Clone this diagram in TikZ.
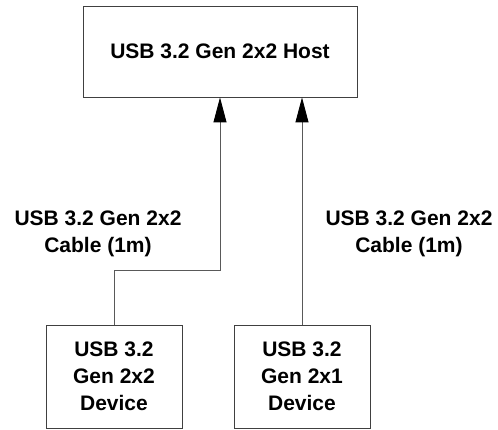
\documentclass[tikz,border=0pt]{standalone}
\usepackage{fontspec}
\setmainfont{Liberation Sans}
\usetikzlibrary{arrows.meta}
\begin{document}
\begin{tikzpicture}[x=1pt,y=-1pt,
  box/.style={draw=black!75, line width=0.9pt, fill=white, inner sep=0pt, align=center,
    font=\fontsize{21}{27}\selectfont\bfseries},
  lbl/.style={align=center, inner sep=0pt, font=\fontsize{21}{27}\selectfont\bfseries},
  conn/.style={draw=black!65, line width=0.9pt},
  arr/.style={conn, -{Triangle[length=25pt,width=13pt,fill=black,color=black]}}]
\useasboundingbox (0,0) rectangle (498,430);
\node[box, minimum width=274pt, minimum height=91pt] (host) at (220,51.5) {USB 3.2 Gen 2x2 Host};
\node[box, minimum width=136pt, minimum height=103pt] (dev1) at (114,376.5) {USB 3.2\\Gen 2x2\\Device};
\node[box, minimum width=136pt, minimum height=103pt] (dev2) at (302,376.5) {USB 3.2\\Gen 2x1\\Device};
\node[lbl] (l1) at (98,233.5) {USB 3.2 Gen 2x2\\Cable (1m)};
\node[lbl] (l2) at (409,233.5) {USB 3.2 Gen 2x2\\Cable (1m)};
\coordinate (bend) at (220,270);
\draw[arr] (dev1.north) |- (bend) -- (bend |- host.south);
\draw[arr] (dev2.north) -- (dev2.north |- host.south);
\end{tikzpicture}
\end{document}
